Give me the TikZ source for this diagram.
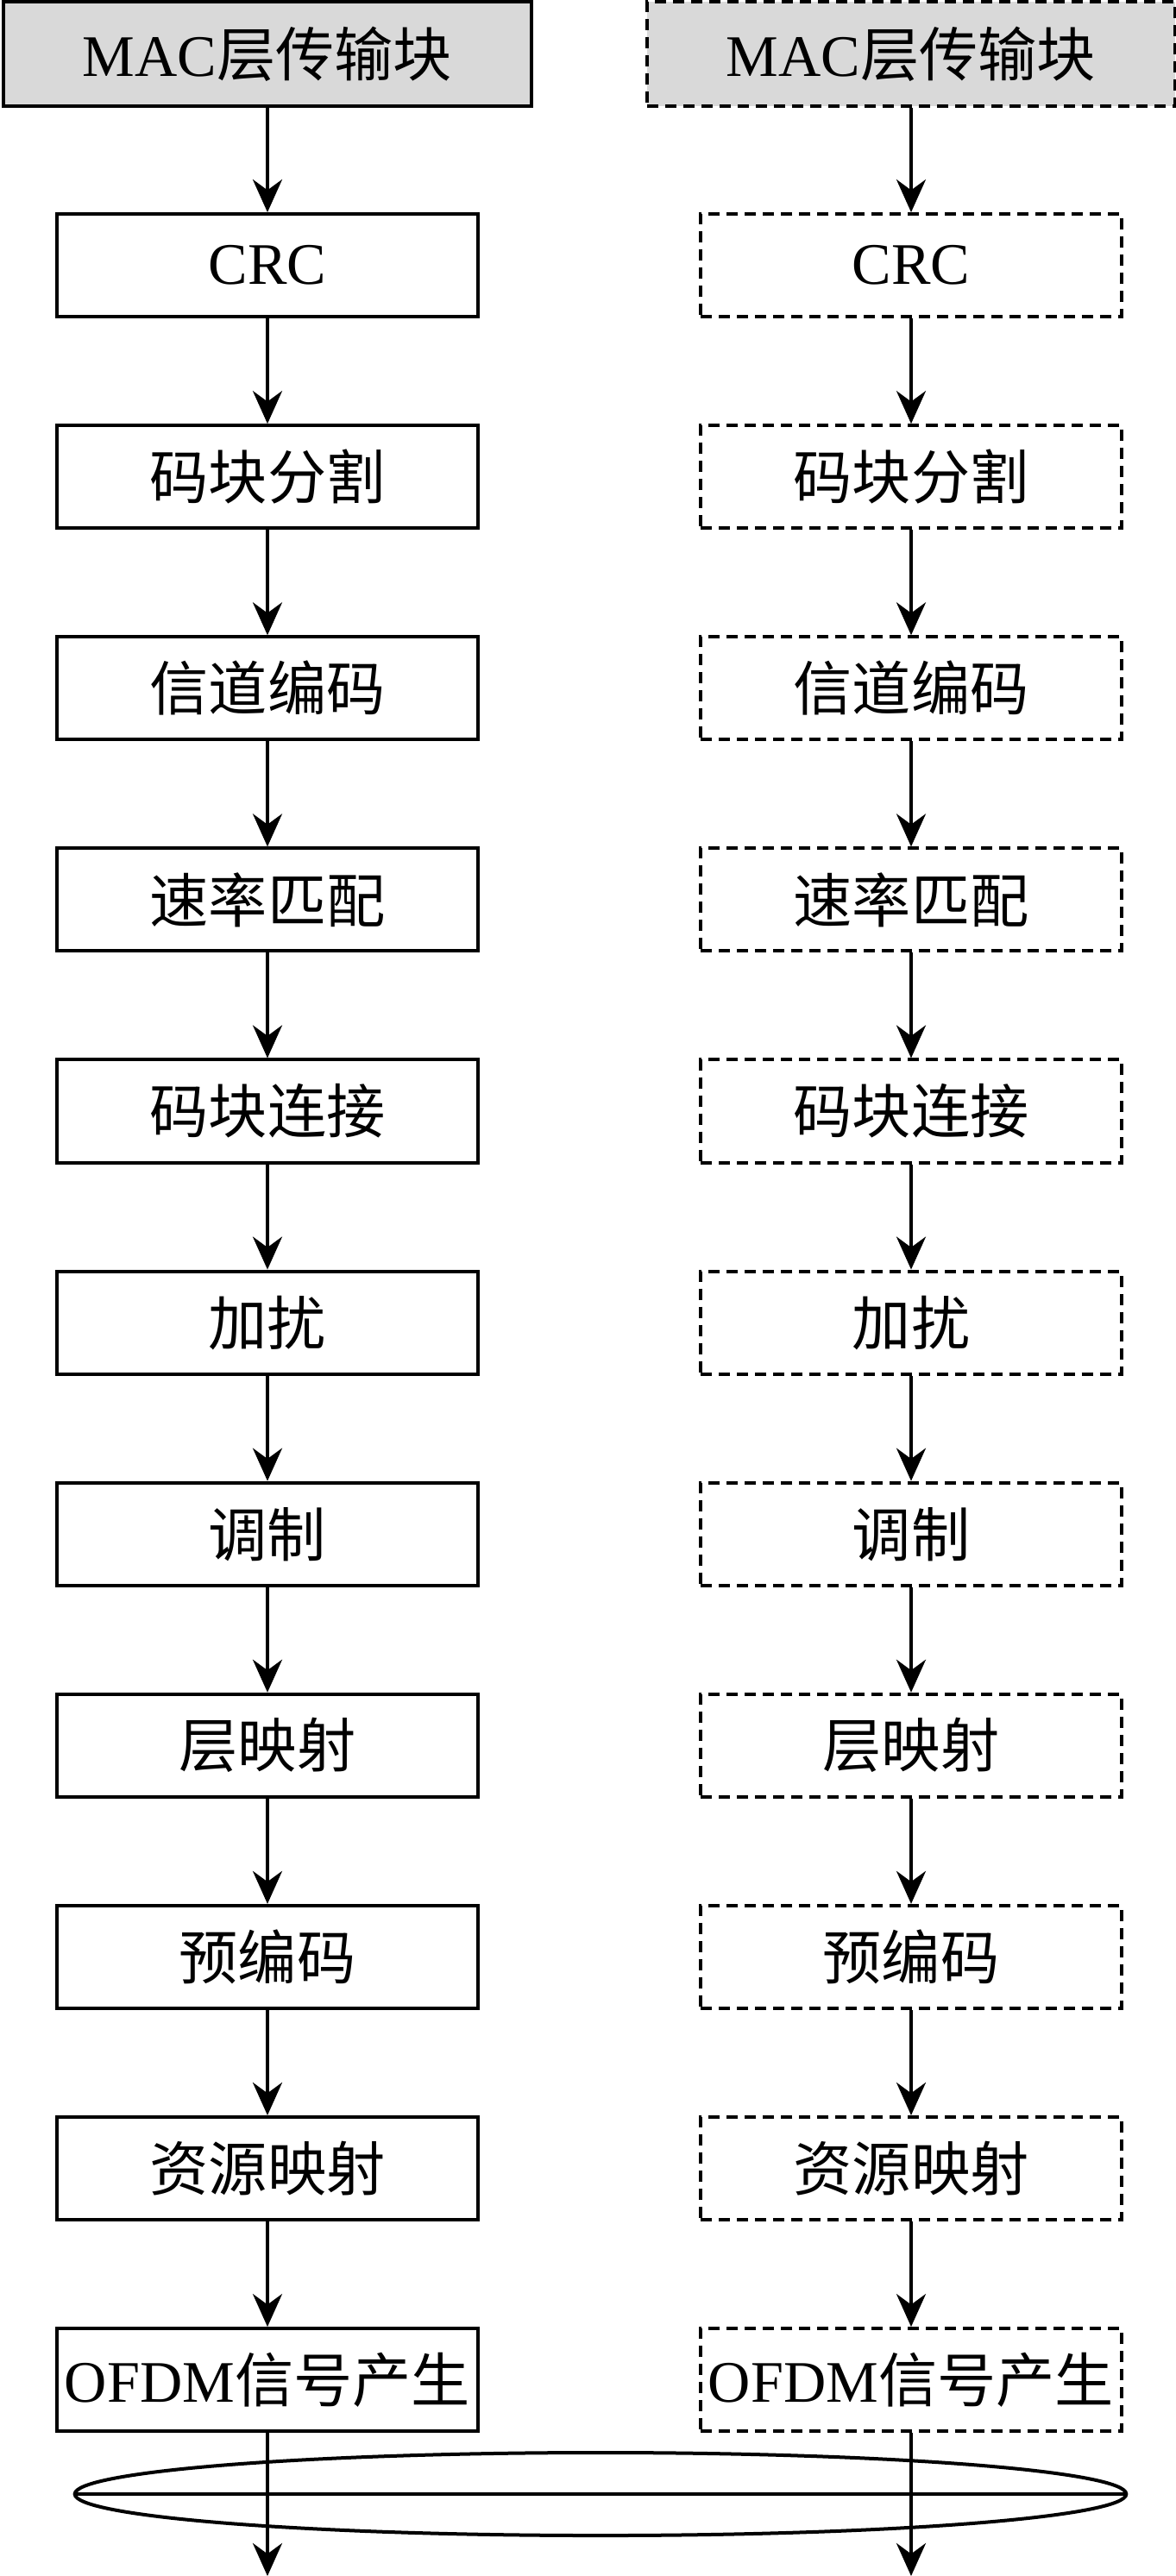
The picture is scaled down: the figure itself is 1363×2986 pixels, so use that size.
\documentclass[tikz,border=0pt]{standalone}
\usepackage{fontspec}
\setmainfont{Liberation Serif}
\newfontfamily\cjk{Noto Sans CJK SC}
\newcommand{\zh}[1]{{\cjk #1}}
\usetikzlibrary{arrows.meta,shapes.geometric}
\definecolor{macgray}{RGB}{217,217,217}
\tikzset{
    blk/.style={draw, line width=0.04cm, minimum width=4.87cm, minimum height=1.19cm, inner sep=0pt},
    dblk/.style={blk, dash pattern=on 0.13cm off 0.08cm},
    mac/.style={blk, fill=macgray, minimum width=6.12cm, minimum height=1.21cm},
    flow/.style={-{Stealth[length=0.38cm, width=0.34cm]}, line width=0.04cm}
}
\begin{document}
\begin{tikzpicture}[x=0.01cm, y=-0.01cm, font=\fontsize{19.4}{23}\selectfont]
        \useasboundingbox (0,0) rectangle (1363,2986);

        \node[mac] (L0) at (310,62.5) {MAC\zh{层传输块}};
        \node[mac, dash pattern=on 0.13cm off 0.08cm] (R0) at (1056,62.5) {MAC\zh{层传输块}};

        \foreach \lab [count=\i] in {CRC, \zh{码块分割}, \zh{信道编码}, \zh{速率匹配}, \zh{码块连接}, \zh{加扰}, \zh{调制}, \zh{层映射}, \zh{预编码}, \zh{资源映射}, OFDM\zh{信号产生}}
        {
            \node[blk] (L\i) at (310, 62.5 + 245.1*\i) {\lab};
            \node[dblk] (R\i) at (1056, 62.5 + 245.1*\i) {\lab};
        }

        \foreach \j [count=\i] in {0,...,10}
        {
            \draw[flow] (L\j) -- (L\i);
            \draw[flow] (R\j) -- (R\i);
        }

        \coordinate (outL) at (310,2986);
        \coordinate (outR) at (1056,2986);
        \draw[flow] (L11) -- (outL);
        \draw[flow] (R11) -- (outR);

        \node[draw, ellipse, line width=0.04cm, minimum width=12.18cm, minimum height=0.96cm, inner sep=0pt] (ring) at (696,2891) {};
        \draw[line width=0.04cm] (ring.west) -- (ring.east);
\end{tikzpicture}
\end{document}
